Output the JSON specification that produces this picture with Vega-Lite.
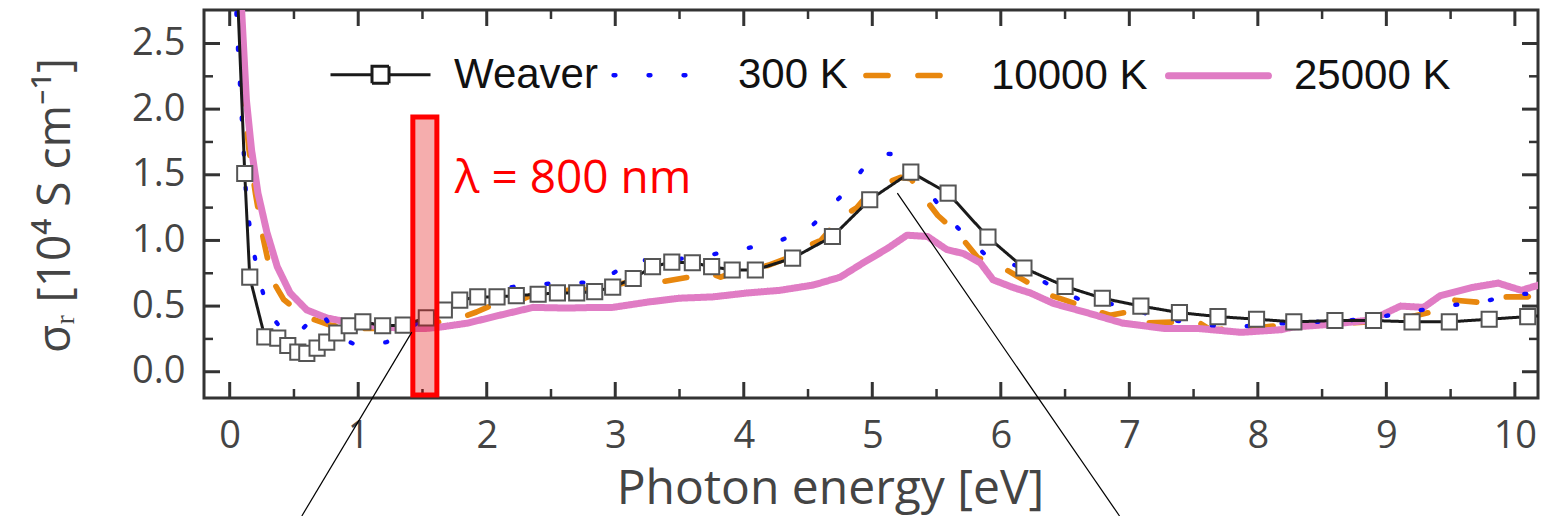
{
  "$schema": "https://vega.github.io/schema/vega-lite/v6.json",
  "width": 1334,
  "height": 388,
  "autosize": {"type": "none"},
  "padding": {"left": 204, "top": 10, "right": 4, "bottom": 118},
  "background": "white",
  "config": {
    "view": {"stroke": "#333333", "strokeWidth": 3},
    "axis": {"domain": false, "ticks": false, "grid": false, "labelFont": "Open Sans", "labelFontSize": 38, "labelColor": "#444444", "titleFont": "Open Sans", "titleColor": "#444444", "titleFontWeight": "normal", "labelFlush": false, "labelOverlap": false}
  },
  "datasets": {
    "xmajor": [{"v": 0}, {"v": 1}, {"v": 2}, {"v": 3}, {"v": 4}, {"v": 5}, {"v": 6}, {"v": 7}, {"v": 8}, {"v": 9}, {"v": 10}],
    "xminor": [{"v": 0.5}, {"v": 1.5}, {"v": 2.5}, {"v": 3.5}, {"v": 4.5}, {"v": 5.5}, {"v": 6.5}, {"v": 7.5}, {"v": 8.5}, {"v": 9.5}],
    "ymajor": [{"v": 0}, {"v": 0.5}, {"v": 1}, {"v": 1.5}, {"v": 2}, {"v": 2.5}],
    "yminor": [{"v": 0.25}, {"v": 0.75}, {"v": 1.25}, {"v": 1.75}, {"v": 2.25}],
    "curves": [
      {"series": "10000 K", "x": 0.075, "y": 3.0}, {"series": "10000 K", "x": 0.11, "y": 2.07}, {"series": "10000 K", "x": 0.15, "y": 1.69}, {"series": "10000 K", "x": 0.2, "y": 1.36}, {"series": "10000 K", "x": 0.26, "y": 1.02}, {"series": "10000 K", "x": 0.33, "y": 0.7}, {"series": "10000 K", "x": 0.42, "y": 0.55}, {"series": "10000 K", "x": 0.52, "y": 0.47}, {"series": "10000 K", "x": 0.65, "y": 0.4}, {"series": "10000 K", "x": 0.78, "y": 0.355}, {"series": "10000 K", "x": 0.97, "y": 0.33}, {"series": "10000 K", "x": 1.19, "y": 0.33}, {"series": "10000 K", "x": 1.4, "y": 0.34}, {"series": "10000 K", "x": 1.64, "y": 0.38}, {"series": "10000 K", "x": 1.85, "y": 0.43}, {"series": "10000 K", "x": 1.92, "y": 0.455}, {"series": "10000 K", "x": 2.05, "y": 0.51}, {"series": "10000 K", "x": 2.26, "y": 0.545}, {"series": "10000 K", "x": 2.44, "y": 0.62}, {"series": "10000 K", "x": 2.52, "y": 0.62}, {"series": "10000 K", "x": 2.73, "y": 0.62}, {"series": "10000 K", "x": 2.94, "y": 0.645}, {"series": "10000 K", "x": 3.09, "y": 0.68}, {"series": "10000 K", "x": 3.17, "y": 0.75}, {"series": "10000 K", "x": 3.33, "y": 0.68}, {"series": "10000 K", "x": 3.57, "y": 0.72}, {"series": "10000 K", "x": 3.74, "y": 0.75}, {"series": "10000 K", "x": 3.82, "y": 0.72}, {"series": "10000 K", "x": 3.97, "y": 0.775}, {"series": "10000 K", "x": 4.19, "y": 0.81}, {"series": "10000 K", "x": 4.35, "y": 0.87}, {"series": "10000 K", "x": 4.45, "y": 0.94}, {"series": "10000 K", "x": 4.6, "y": 1.0}, {"series": "10000 K", "x": 4.75, "y": 1.17}, {"series": "10000 K", "x": 4.88, "y": 1.25}, {"series": "10000 K", "x": 5.01, "y": 1.4}, {"series": "10000 K", "x": 5.22, "y": 1.48}, {"series": "10000 K", "x": 5.3, "y": 1.47}, {"series": "10000 K", "x": 5.4, "y": 1.33}, {"series": "10000 K", "x": 5.51, "y": 1.19}, {"series": "10000 K", "x": 5.67, "y": 1.05}, {"series": "10000 K", "x": 5.82, "y": 0.87}, {"series": "10000 K", "x": 6.02, "y": 0.79}, {"series": "10000 K", "x": 6.21, "y": 0.68}, {"series": "10000 K", "x": 6.33, "y": 0.6}, {"series": "10000 K", "x": 6.5, "y": 0.545}, {"series": "10000 K", "x": 6.72, "y": 0.47}, {"series": "10000 K", "x": 6.85, "y": 0.43}, {"series": "10000 K", "x": 6.99, "y": 0.455}, {"series": "10000 K", "x": 7.09, "y": 0.37}, {"series": "10000 K", "x": 7.38, "y": 0.38}, {"series": "10000 K", "x": 7.55, "y": 0.37}, {"series": "10000 K", "x": 7.63, "y": 0.32}, {"series": "10000 K", "x": 7.85, "y": 0.33}, {"series": "10000 K", "x": 8.05, "y": 0.34}, {"series": "10000 K", "x": 8.31, "y": 0.37}, {"series": "10000 K", "x": 8.42, "y": 0.35}, {"series": "10000 K", "x": 8.7, "y": 0.37}, {"series": "10000 K", "x": 9.03, "y": 0.39}, {"series": "10000 K", "x": 9.2, "y": 0.42}, {"series": "10000 K", "x": 9.35, "y": 0.455}, {"series": "10000 K", "x": 9.41, "y": 0.49}, {"series": "10000 K", "x": 9.53, "y": 0.545}, {"series": "10000 K", "x": 9.71, "y": 0.53}, {"series": "10000 K", "x": 9.93, "y": 0.57}, {"series": "10000 K", "x": 10.1, "y": 0.57}, {"series": "10000 K", "x": 10.25, "y": 0.63},
      {"series": "25000 K", "x": 0.085, "y": 3.0}, {"series": "25000 K", "x": 0.093, "y": 2.75}, {"series": "25000 K", "x": 0.13, "y": 2.07}, {"series": "25000 K", "x": 0.17, "y": 1.69}, {"series": "25000 K", "x": 0.22, "y": 1.36}, {"series": "25000 K", "x": 0.29, "y": 1.06}, {"series": "25000 K", "x": 0.37, "y": 0.8}, {"series": "25000 K", "x": 0.47, "y": 0.6}, {"series": "25000 K", "x": 0.6, "y": 0.47}, {"series": "25000 K", "x": 0.755, "y": 0.41}, {"series": "25000 K", "x": 0.96, "y": 0.37}, {"series": "25000 K", "x": 1.19, "y": 0.34}, {"series": "25000 K", "x": 1.4, "y": 0.33}, {"series": "25000 K", "x": 1.53, "y": 0.33}, {"series": "25000 K", "x": 1.64, "y": 0.34}, {"series": "25000 K", "x": 1.85, "y": 0.37}, {"series": "25000 K", "x": 2.1, "y": 0.43}, {"series": "25000 K", "x": 2.36, "y": 0.49}, {"series": "25000 K", "x": 2.62, "y": 0.485}, {"series": "25000 K", "x": 2.86, "y": 0.49}, {"series": "25000 K", "x": 2.98, "y": 0.49}, {"series": "25000 K", "x": 3.25, "y": 0.53}, {"series": "25000 K", "x": 3.5, "y": 0.56}, {"series": "25000 K", "x": 3.76, "y": 0.57}, {"series": "25000 K", "x": 4.03, "y": 0.6}, {"series": "25000 K", "x": 4.28, "y": 0.62}, {"series": "25000 K", "x": 4.54, "y": 0.66}, {"series": "25000 K", "x": 4.75, "y": 0.72}, {"series": "25000 K", "x": 4.93, "y": 0.83}, {"series": "25000 K", "x": 5.12, "y": 0.94}, {"series": "25000 K", "x": 5.27, "y": 1.04}, {"series": "25000 K", "x": 5.43, "y": 1.03}, {"series": "25000 K", "x": 5.58, "y": 0.93}, {"series": "25000 K", "x": 5.71, "y": 0.9}, {"series": "25000 K", "x": 5.84, "y": 0.83}, {"series": "25000 K", "x": 5.94, "y": 0.7}, {"series": "25000 K", "x": 6.1, "y": 0.64}, {"series": "25000 K", "x": 6.23, "y": 0.6}, {"series": "25000 K", "x": 6.41, "y": 0.52}, {"series": "25000 K", "x": 6.67, "y": 0.45}, {"series": "25000 K", "x": 6.95, "y": 0.37}, {"series": "25000 K", "x": 7.27, "y": 0.33}, {"series": "25000 K", "x": 7.53, "y": 0.33}, {"series": "25000 K", "x": 7.87, "y": 0.3}, {"series": "25000 K", "x": 8.18, "y": 0.32}, {"series": "25000 K", "x": 8.27, "y": 0.34}, {"series": "25000 K", "x": 8.55, "y": 0.36}, {"series": "25000 K", "x": 8.84, "y": 0.39}, {"series": "25000 K", "x": 8.96, "y": 0.43}, {"series": "25000 K", "x": 9.11, "y": 0.5}, {"series": "25000 K", "x": 9.29, "y": 0.49}, {"series": "25000 K", "x": 9.42, "y": 0.58}, {"series": "25000 K", "x": 9.66, "y": 0.64}, {"series": "25000 K", "x": 9.87, "y": 0.675}, {"series": "25000 K", "x": 10.05, "y": 0.62}, {"series": "25000 K", "x": 10.22, "y": 0.67},
      {"series": "300 K", "x": 0.045, "y": 3.0}, {"series": "300 K", "x": 0.055, "y": 2.63}, {"series": "300 K", "x": 0.07, "y": 2.36}, {"series": "300 K", "x": 0.086, "y": 2.08}, {"series": "300 K", "x": 0.1, "y": 1.82}, {"series": "300 K", "x": 0.117, "y": 1.55}, {"series": "300 K", "x": 0.13, "y": 1.28}, {"series": "300 K", "x": 0.17, "y": 1.01}, {"series": "300 K", "x": 0.22, "y": 0.74}, {"series": "300 K", "x": 0.3, "y": 0.455}, {"series": "300 K", "x": 0.4, "y": 0.33}, {"series": "300 K", "x": 0.52, "y": 0.28}, {"series": "300 K", "x": 0.62, "y": 0.38}, {"series": "300 K", "x": 0.7, "y": 0.47}, {"series": "300 K", "x": 0.77, "y": 0.37}, {"series": "300 K", "x": 0.84, "y": 0.265}, {"series": "300 K", "x": 0.97, "y": 0.21}, {"series": "300 K", "x": 1.1, "y": 0.21}, {"series": "300 K", "x": 1.22, "y": 0.225}, {"series": "300 K", "x": 1.36, "y": 0.3}, {"series": "300 K", "x": 1.5, "y": 0.4}, {"series": "300 K", "x": 1.75, "y": 0.545}, {"series": "300 K", "x": 2.02, "y": 0.62}, {"series": "300 K", "x": 2.3, "y": 0.66}, {"series": "300 K", "x": 2.57, "y": 0.675}, {"series": "300 K", "x": 2.86, "y": 0.68}, {"series": "300 K", "x": 3.0, "y": 0.76}, {"series": "300 K", "x": 3.13, "y": 0.85}, {"series": "300 K", "x": 3.41, "y": 0.85}, {"series": "300 K", "x": 3.68, "y": 0.88}, {"series": "300 K", "x": 3.96, "y": 0.93}, {"series": "300 K", "x": 4.24, "y": 0.98}, {"series": "300 K", "x": 4.52, "y": 1.1}, {"series": "300 K", "x": 4.77, "y": 1.35}, {"series": "300 K", "x": 4.98, "y": 1.61}, {"series": "300 K", "x": 5.12, "y": 1.66}, {"series": "300 K", "x": 5.24, "y": 1.65}, {"series": "300 K", "x": 5.43, "y": 1.38}, {"series": "300 K", "x": 5.63, "y": 1.13}, {"series": "300 K", "x": 5.88, "y": 0.89}, {"series": "300 K", "x": 6.17, "y": 0.79}, {"series": "300 K", "x": 6.4, "y": 0.645}, {"series": "300 K", "x": 6.67, "y": 0.525}, {"series": "300 K", "x": 6.95, "y": 0.51}, {"series": "300 K", "x": 7.22, "y": 0.41}, {"series": "300 K", "x": 7.5, "y": 0.37}, {"series": "300 K", "x": 7.77, "y": 0.34}, {"series": "300 K", "x": 8.05, "y": 0.355}, {"series": "300 K", "x": 8.31, "y": 0.38}, {"series": "300 K", "x": 8.6, "y": 0.38}, {"series": "300 K", "x": 8.89, "y": 0.41}, {"series": "300 K", "x": 9.16, "y": 0.45}, {"series": "300 K", "x": 9.45, "y": 0.5}, {"series": "300 K", "x": 9.73, "y": 0.53}, {"series": "300 K", "x": 10.01, "y": 0.59}, {"series": "300 K", "x": 10.25, "y": 0.6},
      {"series": "Weaver", "x": 0.06, "y": 2.9}, {"series": "Weaver", "x": 0.117, "y": 1.51}, {"series": "Weaver", "x": 0.156, "y": 0.72}, {"series": "Weaver", "x": 0.273, "y": 0.265}, {"series": "Weaver", "x": 0.374, "y": 0.256}, {"series": "Weaver", "x": 0.452, "y": 0.2}, {"series": "Weaver", "x": 0.53, "y": 0.15}, {"series": "Weaver", "x": 0.6, "y": 0.14}, {"series": "Weaver", "x": 0.68, "y": 0.18}, {"series": "Weaver", "x": 0.755, "y": 0.226}, {"series": "Weaver", "x": 0.833, "y": 0.295}, {"series": "Weaver", "x": 0.93, "y": 0.35}, {"series": "Weaver", "x": 1.036, "y": 0.38}, {"series": "Weaver", "x": 1.19, "y": 0.35}, {"series": "Weaver", "x": 1.35, "y": 0.355}, {"series": "Weaver", "x": 1.53, "y": 0.41}, {"series": "Weaver", "x": 1.67, "y": 0.47}, {"series": "Weaver", "x": 1.79, "y": 0.545}, {"series": "Weaver", "x": 1.93, "y": 0.57}, {"series": "Weaver", "x": 2.08, "y": 0.57}, {"series": "Weaver", "x": 2.23, "y": 0.58}, {"series": "Weaver", "x": 2.4, "y": 0.59}, {"series": "Weaver", "x": 2.55, "y": 0.6}, {"series": "Weaver", "x": 2.7, "y": 0.6}, {"series": "Weaver", "x": 2.84, "y": 0.61}, {"series": "Weaver", "x": 2.98, "y": 0.645}, {"series": "Weaver", "x": 3.14, "y": 0.71}, {"series": "Weaver", "x": 3.29, "y": 0.8}, {"series": "Weaver", "x": 3.44, "y": 0.835}, {"series": "Weaver", "x": 3.6, "y": 0.83}, {"series": "Weaver", "x": 3.75, "y": 0.8}, {"series": "Weaver", "x": 3.91, "y": 0.775}, {"series": "Weaver", "x": 4.09, "y": 0.775}, {"series": "Weaver", "x": 4.38, "y": 0.865}, {"series": "Weaver", "x": 4.69, "y": 1.03}, {"series": "Weaver", "x": 4.98, "y": 1.31}, {"series": "Weaver", "x": 5.3, "y": 1.52}, {"series": "Weaver", "x": 5.59, "y": 1.36}, {"series": "Weaver", "x": 5.9, "y": 1.025}, {"series": "Weaver", "x": 6.18, "y": 0.79}, {"series": "Weaver", "x": 6.5, "y": 0.65}, {"series": "Weaver", "x": 6.79, "y": 0.56}, {"series": "Weaver", "x": 7.09, "y": 0.5}, {"series": "Weaver", "x": 7.39, "y": 0.45}, {"series": "Weaver", "x": 7.69, "y": 0.42}, {"series": "Weaver", "x": 7.99, "y": 0.4}, {"series": "Weaver", "x": 8.28, "y": 0.38}, {"series": "Weaver", "x": 8.6, "y": 0.39}, {"series": "Weaver", "x": 8.9, "y": 0.39}, {"series": "Weaver", "x": 9.2, "y": 0.38}, {"series": "Weaver", "x": 9.49, "y": 0.38}, {"series": "Weaver", "x": 9.8, "y": 0.4}, {"series": "Weaver", "x": 10.1, "y": 0.42}, {"series": "Weaver", "x": 10.4, "y": 0.44}
    ],
    "box": [{"x1": 1.425, "x2": 1.612, "y1": -0.177, "y2": 1.94}],
    "note": [{"x": 1.752, "y": 1.361, "label": "λ = 800 nm"}],
    "pointers": [
      {"x1": 1.417, "y1": 0.302, "x2": 0.561, "y2": -1.099},
      {"x1": 5.195, "y1": 1.36, "x2": 6.924, "y2": -1.099}
    ]
  },
  "resolve": {"axis": {"x": "independent", "y": "independent"}},
  "layer": [
    {
      "data": {"name": "curves"},
      "mark": {"type": "line", "clip": true, "strokeCap": "round", "strokeJoin": "round"},
      "encoding": {
        "x": {"field": "x", "type": "quantitative", "scale": {"domain": [-0.2, 10.18], "nice": false, "zero": false},
          "axis": {"orient": "bottom", "values": [0, 1, 2, 3, 4, 5, 6, 7, 8, 9, 10], "format": "d", "labelPadding": 19, "title": "Photon energy [eV]", "titleFontSize": 48, "titleX": 626, "titleY": 105, "titleBaseline": "alphabetic", "titleAlign": "center", "titleAnchor": "start"}},
        "y": {"field": "y", "type": "quantitative", "scale": {"domain": [-0.2, 2.755], "nice": false, "zero": false},
          "axis": {"orient": "left", "values": [0, 0.5, 1, 1.5, 2, 2.5], "format": ".1f", "labelPadding": 19, "title": "σᵣ [10⁴ S cm⁻¹]", "titleFontSize": 46, "titleAngle": -90, "titleX": -135, "titleY": 195, "titleBaseline": "alphabetic", "titleAlign": "center", "titleAnchor": "start"}},
        "color": {"field": "series", "type": "nominal", "title": null,
          "scale": {"domain": ["Weaver", "300 K", "10000 K", "25000 K"], "range": ["#1a1a1a", "#0a0aff", "#e8870e", "#e07cc4"]},
          "legend": {"orient": "none", "legendX": 125, "legendY": 12, "direction": "horizontal", "symbolType": "stroke", "symbolSize": 10000, "symbolStrokeWidth": 4, "labelFont": "Liberation Sans", "labelFontSize": 42, "labelColor": "#111111", "labelOffset": 22, "labelLimit": 400, "columnPadding": 6,
            "encode": {"symbols": {"update": {
              "shape": {"signal": "datum.value === 'Weaver' ? 'M-1,0L-0.17,0M0.17,0L1,0M-0.17,-0.17L0.17,-0.17L0.17,0.17L-0.17,0.17Z' : 'stroke'"},
              "fill": {"signal": "datum.value === 'Weaver' ? '#ffffff' : 'transparent'"},
              "strokeDash": {"signal": "datum.value === '300 K' ? [2, 34] : datum.value === '10000 K' ? [22, 36] : [1, 0]"},
              "strokeWidth": {"signal": "datum.value === '300 K' ? 7 : datum.value === '10000 K' ? 6 : datum.value === '25000 K' ? 5 : 3"},
              "strokeCap": {"signal": "datum.value === 'Weaver' ? 'butt' : 'round'"}
            }}}}},
        "strokeDash": {"field": "series", "type": "nominal", "legend": null,
          "scale": {"domain": ["Weaver", "300 K", "10000 K", "25000 K"], "range": [[1, 0], [2, 33], [22, 30], [1, 0]]}},
        "strokeWidth": {"field": "series", "type": "nominal", "legend": null,
          "scale": {"domain": ["Weaver", "300 K", "10000 K", "25000 K"], "range": [3, 7, 6, 5]}}
      }
    },
    {
      "data": {"name": "xmajor"},
      "mark": {"type": "tick", "orient": "vertical", "size": 16, "thickness": 3, "yOffset": -8, "color": "#333333", "opacity": 1, "clip": false},
      "encoding": {
        "x": {"field": "v", "type": "quantitative", "scale": {"domain": [-0.2, 10.18], "nice": false, "zero": false}, "axis": null},
        "y": {"datum": -0.2, "type": "quantitative", "scale": {"domain": [-0.2, 2.755], "nice": false, "zero": false}, "axis": null}
      }
    },
    {
      "data": {"name": "xmajor"},
      "mark": {"type": "tick", "orient": "vertical", "size": 16, "thickness": 3, "yOffset": 8, "color": "#333333", "opacity": 1, "clip": false},
      "encoding": {
        "x": {"field": "v", "type": "quantitative", "scale": {"domain": [-0.2, 10.18], "nice": false, "zero": false}, "axis": null},
        "y": {"datum": 2.755, "type": "quantitative", "scale": {"domain": [-0.2, 2.755], "nice": false, "zero": false}, "axis": null}
      }
    },
    {
      "data": {"name": "xminor"},
      "mark": {"type": "tick", "orient": "vertical", "size": 9, "thickness": 2.5, "yOffset": -4.5, "color": "#333333", "opacity": 1, "clip": false},
      "encoding": {
        "x": {"field": "v", "type": "quantitative", "scale": {"domain": [-0.2, 10.18], "nice": false, "zero": false}, "axis": null},
        "y": {"datum": -0.2, "type": "quantitative", "scale": {"domain": [-0.2, 2.755], "nice": false, "zero": false}, "axis": null}
      }
    },
    {
      "data": {"name": "xminor"},
      "mark": {"type": "tick", "orient": "vertical", "size": 9, "thickness": 2.5, "yOffset": 4.5, "color": "#333333", "opacity": 1, "clip": false},
      "encoding": {
        "x": {"field": "v", "type": "quantitative", "scale": {"domain": [-0.2, 10.18], "nice": false, "zero": false}, "axis": null},
        "y": {"datum": 2.755, "type": "quantitative", "scale": {"domain": [-0.2, 2.755], "nice": false, "zero": false}, "axis": null}
      }
    },
    {
      "data": {"name": "ymajor"},
      "mark": {"type": "tick", "orient": "horizontal", "size": 16, "thickness": 3, "xOffset": 8, "color": "#333333", "opacity": 1, "clip": false},
      "encoding": {
        "y": {"field": "v", "type": "quantitative", "scale": {"domain": [-0.2, 2.755], "nice": false, "zero": false}, "axis": null},
        "x": {"datum": -0.2, "type": "quantitative", "scale": {"domain": [-0.2, 10.18], "nice": false, "zero": false}, "axis": null}
      }
    },
    {
      "data": {"name": "ymajor"},
      "mark": {"type": "tick", "orient": "horizontal", "size": 16, "thickness": 3, "xOffset": -8, "color": "#333333", "opacity": 1, "clip": false},
      "encoding": {
        "y": {"field": "v", "type": "quantitative", "scale": {"domain": [-0.2, 2.755], "nice": false, "zero": false}, "axis": null},
        "x": {"datum": 10.18, "type": "quantitative", "scale": {"domain": [-0.2, 10.18], "nice": false, "zero": false}, "axis": null}
      }
    },
    {
      "data": {"name": "yminor"},
      "mark": {"type": "tick", "orient": "horizontal", "size": 9, "thickness": 2.5, "xOffset": 4.5, "color": "#333333", "opacity": 1, "clip": false},
      "encoding": {
        "y": {"field": "v", "type": "quantitative", "scale": {"domain": [-0.2, 2.755], "nice": false, "zero": false}, "axis": null},
        "x": {"datum": -0.2, "type": "quantitative", "scale": {"domain": [-0.2, 10.18], "nice": false, "zero": false}, "axis": null}
      }
    },
    {
      "data": {"name": "yminor"},
      "mark": {"type": "tick", "orient": "horizontal", "size": 9, "thickness": 2.5, "xOffset": -4.5, "color": "#333333", "opacity": 1, "clip": false},
      "encoding": {
        "y": {"field": "v", "type": "quantitative", "scale": {"domain": [-0.2, 2.755], "nice": false, "zero": false}, "axis": null},
        "x": {"datum": 10.18, "type": "quantitative", "scale": {"domain": [-0.2, 10.18], "nice": false, "zero": false}, "axis": null}
      }
    },
    {
      "data": {"name": "curves"},
      "transform": [{"filter": "datum.series === 'Weaver'"}],
      "mark": {"type": "point", "shape": "square", "filled": true, "fill": "#ffffff", "stroke": "#555555", "strokeWidth": 2, "size": 230, "opacity": 1, "clip": true},
      "encoding": {
        "x": {"field": "x", "type": "quantitative", "scale": {"domain": [-0.2, 10.18], "nice": false, "zero": false}, "axis": null},
        "y": {"field": "y", "type": "quantitative", "scale": {"domain": [-0.2, 2.755], "nice": false, "zero": false}, "axis": null}
      }
    },
    {
      "data": {"name": "box"},
      "mark": {"type": "rect", "fill": "#e00000", "fillOpacity": 0.32, "stroke": "#ff0000", "strokeWidth": 5},
      "encoding": {
        "x": {"field": "x1", "type": "quantitative", "scale": {"domain": [-0.2, 10.18], "nice": false, "zero": false}, "axis": null},
        "x2": {"field": "x2"},
        "y": {"field": "y1", "type": "quantitative", "scale": {"domain": [-0.2, 2.755], "nice": false, "zero": false}, "axis": null},
        "y2": {"field": "y2"}
      }
    },
    {
      "data": {"name": "note"},
      "mark": {"type": "text", "font": "Open Sans", "fontSize": 46, "color": "#ff0000", "align": "left", "baseline": "alphabetic"},
      "encoding": {
        "x": {"field": "x", "type": "quantitative", "scale": {"domain": [-0.2, 10.18], "nice": false, "zero": false}, "axis": null},
        "y": {"field": "y", "type": "quantitative", "scale": {"domain": [-0.2, 2.755], "nice": false, "zero": false}, "axis": null},
        "text": {"field": "label"}
      }
    },
    {
      "data": {"name": "pointers"},
      "mark": {"type": "rule", "clip": false, "color": "#000000", "strokeWidth": 1.2},
      "encoding": {
        "x": {"field": "x1", "type": "quantitative", "scale": {"domain": [-0.2, 10.18], "nice": false, "zero": false}, "axis": null},
        "y": {"field": "y1", "type": "quantitative", "scale": {"domain": [-0.2, 2.755], "nice": false, "zero": false}, "axis": null},
        "x2": {"field": "x2"},
        "y2": {"field": "y2"}
      }
    }
  ]
}
